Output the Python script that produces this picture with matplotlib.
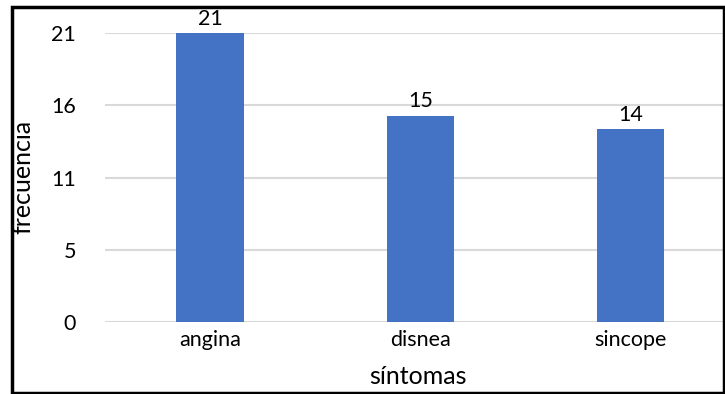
import matplotlib
matplotlib.use("Agg")
import matplotlib.pyplot as plt
from matplotlib.patches import Rectangle

categories = ["angina", "disnea", "sincope"]
values = [21, 15, 14]
ytick_values = [0, 5.25, 10.5, 15.75, 21]
ytick_labels = ["0", "5", "11", "16", "21"]

plt.rcParams['font.family'] = ['Lato', 'DejaVu Sans']

fig = plt.figure(figsize=(7.25, 3.94), dpi=100)
ax = fig.add_axes([0.1448, 0.1827, 0.870, 0.7335])

x = range(len(categories))
bars = ax.bar(x, values, width=0.32, color="#4472C4", zorder=3)

ax.set_xlim(-0.5, len(categories) - 0.5)
ax.set_ylim(0, 21)
ax.set_yticks(ytick_values)
ax.set_yticklabels(ytick_labels)
ax.set_xticks(list(x))
ax.set_xticklabels(categories)

ax.grid(axis="y", color="#d9d9d9", linewidth=1.5, zorder=0)
for s in ax.spines.values():
    s.set_visible(False)
ax.tick_params(axis="both", length=0, labelsize=15.5, colors="black")
ax.tick_params(axis="y", pad=21)
ax.tick_params(axis="x", pad=6)

for b, v in zip(bars, values):
    ax.annotate(str(v), (b.get_x() + b.get_width() / 2, v), xytext=(0, 3),
                textcoords="offset points", ha="center", va="bottom", fontsize=15.5)

fig.text(418 / 725, 1 - 377 / 394, "síntomas", ha="center", va="center", fontsize=18)
fig.text(23 / 725, 1 - 177 / 394, "frecuencia", ha="center", va="center",
         rotation=90, fontsize=18)

fig.patches.append(Rectangle((12 / 725, 1.5 / 394), 711.5 / 725, 386 / 394,
                             transform=fig.transFigure, fill=False,
                             edgecolor="black", linewidth=2.5, zorder=10))

fig.savefig("out.png", dpi=100)
